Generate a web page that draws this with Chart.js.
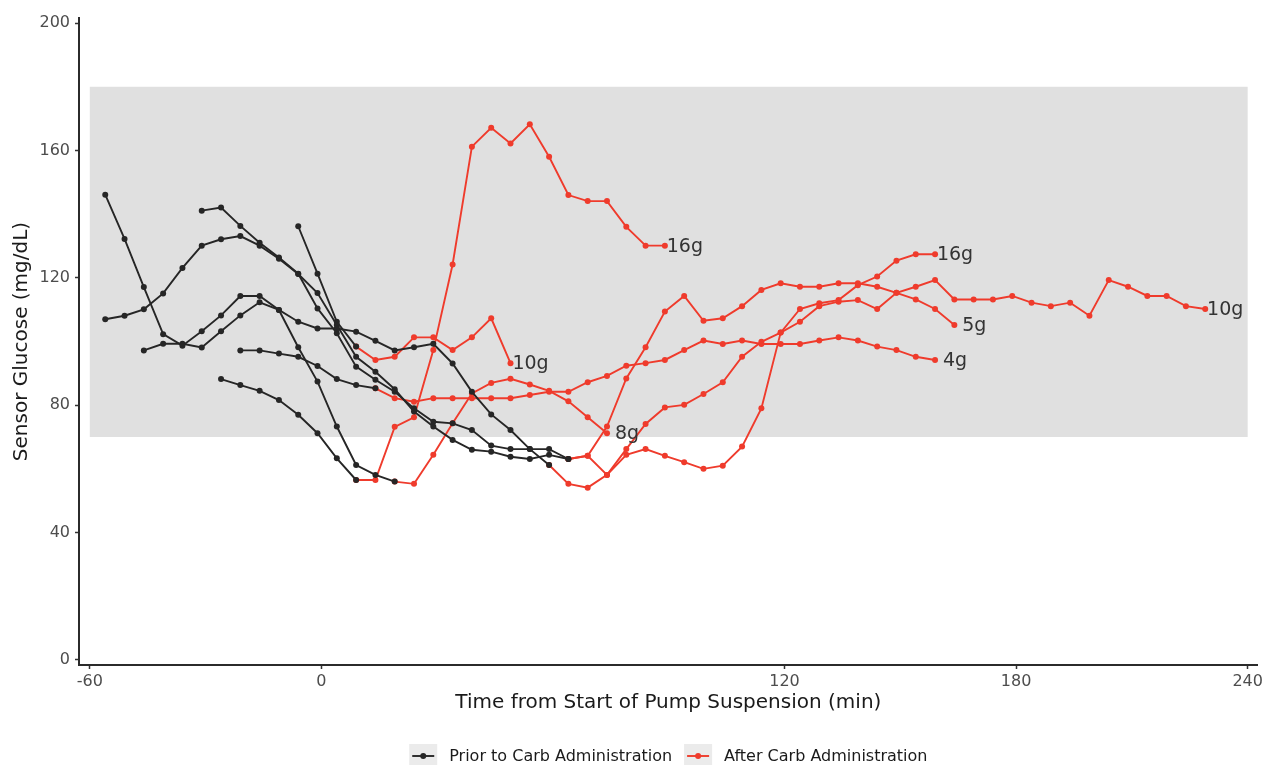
<!DOCTYPE html>
<html lang="en">
  <head>
    <meta charset="UTF-8" />
    <title>Sensor Glucose</title>
    <script src="https://cdn.jsdelivr.net/npm/chart.js"></script>
    <style>
      body { margin: 0; background: #fff; }
      canvas { display: block; }
    </style>
  </head>
  <body>
    <canvas id="glucoseChart" width="1266" height="765"></canvas>

    <script>
      // [minutes from start of pump suspension, sensor glucose mg/dL]
      // before carbs were given (black)
      const prior1 = [[-56,146.1],[-51,132.2],[-46,117.1],[-41,102.3],[-36,98.7],[-31,103.2],[-26,108.2],[-21,114.3],[-16,114.3],[-11,109.9],[-6,98.2],[-1,87.4],[4,73.3],[9,61.2],[14,58.1],[19,56.0]];
      const prior2 = [[-46,97.2],[-41,99.3],[-36,99.3],[-31,98.1],[-26,103.2],[-21,108.2],[-16,112.3],[-11,109.9],[-6,106.2],[-1,104.1],[4,104.1],[9,103.1],[14,100.2],[19,97.2],[24,98.2],[29,99.3],[34,93.1],[39,84.2],[44,77.1],[49,72.2],[54,66.2],[59,61.2]];
      const prior3 = [[-56,107.0],[-51,108.1],[-46,110.1],[-41,115.1],[-36,123.1],[-31,130.1],[-26,132.1],[-21,133.1],[-16,130.1],[-11,126.0],[-6,121.2],[-1,115.2],[4,105.2],[9,95.2],[14,90.5],[19,85.0],[24,78.0],[29,73.3],[34,69.1],[39,66.0],[44,65.4],[49,63.8],[54,63.1],[59,64.4],[64,63.1]];
      const prior4 = [[-31,141.1],[-26,142.1],[-21,136.3],[-16,131.0],[-11,126.4],[-6,121.3],[-1,110.4],[4,102.6],[9,92.1],[14,88.0],[19,84.2],[24,79.0],[29,74.8],[34,74.3],[39,72.2],[44,67.3],[49,66.2],[54,66.2],[59,66.2],[64,63.1]];
      const prior5 = [[-21,97.2],[-16,97.2],[-11,96.2],[-6,95.2],[-1,92.3],[4,88.2],[9,86.3],[14,85.3]];
      const prior6 = [[-26,88.2],[-21,86.3],[-16,84.5],[-11,81.6],[-6,77.0],[-1,71.2],[4,63.3],[9,56.5]];
      const prior7 = [[-6,136.2],[-1,121.3],[4,106.2],[9,98.4]];

      // after carbs were given (red)
      const after1 = [[9,56.5],[14,56.5],[19,73.2],[24,76.2],[29,97.3],[34,124.2],[39,161.2],[44,167.1],[49,162.2],[54,168.2],[59,158.0],[64,146.0],[69,144.1],[74,144.1],[79,136.0],[84,130.1],[89,130.1]];
      const after2 = [[9,98.4],[14,94.2],[19,95.2],[24,101.3],[29,101.3],[34,97.3],[39,101.3],[44,107.3],[49,93.2]];
      const after3 = [[19,56.0],[24,55.3],[29,64.4],[34,74.3],[39,83.7],[44,87.0],[49,88.3],[54,86.5],[59,84.5],[64,81.2],[69,76.2],[74,71.2]];
      const after4 = [[14,85.3],[19,82.2],[24,81.1],[29,82.2],[34,82.2],[39,82.2],[44,82.2],[49,82.2],[54,83.2],[59,84.2],[64,84.2],[69,87.2],[74,89.2],[79,92.4],[84,93.2],[89,94.2],[94,97.3],[99,100.3],[104,99.2],[109,100.3],[114,99.2],[119,99.2],[124,99.2],[129,100.3],[134,101.3],[139,100.3],[144,98.4],[149,97.3],[154,95.2],[159,94.2]];
      const after5 = [[64,63.1],[69,64.1],[74,73.3],[79,88.4],[84,98.2],[89,109.4],[94,114.3],[99,106.5],[104,107.3],[109,111.1],[114,116.2],[119,118.3],[124,117.2],[129,117.2],[134,118.3],[139,118.3],[144,117.2],[149,115.3],[154,113.2],[159,110.2],[164,105.2]];
      const after6 = [[64,63.1],[69,64.1],[74,58.1],[79,64.4],[84,66.2],[89,64.1],[94,62.1],[99,60.0],[104,61.0],[109,67.0],[114,79.0],[119,102.8],[124,110.2],[129,112.0],[134,113.0],[139,117.7],[144,120.4],[149,125.4],[154,127.4],[159,127.4]];
      const after7 = [[59,61.2],[64,55.3],[69,54.1],[74,58.1],[79,66.2],[84,74.1],[89,79.3],[94,80.1],[99,83.5],[104,87.2],[109,95.2],[114,99.9],[119,102.8],[124,106.2],[129,111.1],[134,112.5],[139,113.0],[144,110.2],[149,115.3],[154,117.2],[159,119.3],[164,113.2],[169,113.2],[174,113.2],[179,114.3],[184,112.2],[189,111.1],[194,112.2],[199,108.1],[204,119.3],[209,117.2],[214,114.3],[219,114.3],[224,111.1],[229,110.2]];

      const priorSeries = [prior1, prior2, prior3, prior4, prior5, prior6, prior7];
      const afterSeries = [after1, after2, after3, after4, after5, after6, after7];
      const carbLabels = ["16g", "10g", "8g", "4g", "5g", "16g", "10g"];
      const seriesNames = ["Prior to Carb Administration", "After Carb Administration"];

      // target range shading
      const targetLow = 70;
      const targetHigh = 180;
      const bandStart = -60;
      const bandEnd = 240;

      const xTicks = [-60, 0, 120, 180, 240];
      const yTicks = [0, 40, 80, 120, 160, 200];

      const priorColor = "#262626";
      const afterColor = "#ef3b2c";
      const seriesColors = [priorColor, afterColor];
      const fontFamily = '"DejaVu Sans", sans-serif';

      function lineDataset(points, color, label) {
        return {
          data: points,
          borderColor: color,
          backgroundColor: color,
          borderWidth: 1.9,
          pointRadius: 3,
          pointBorderWidth: 0,
          pointBackgroundColor: color,
          tension: 0,
          carbLabel: label,
        };
      }

      const datasets = [
        ...priorSeries.map((s) => lineDataset(s, priorColor, null)),
        ...afterSeries.map((s, i) => lineDataset(s, afterColor, carbLabels[i])),
      ];

      // grey target band behind the lines
      const bandPlugin = {
        id: "targetBand",
        beforeDatasetsDraw(chart) {
          const { ctx, scales } = chart;
          const left = scales.x.getPixelForValue(bandStart);
          const right = scales.x.getPixelForValue(bandEnd);
          const top = scales.y.getPixelForValue(targetHigh);
          const bottom = scales.y.getPixelForValue(targetLow);
          ctx.save();
          ctx.fillStyle = "#e0e0e0";
          ctx.fillRect(left, top, right - left, bottom - top);
          ctx.restore();
        },
      };

      // carb amount written next to the last point of each red line
      const carbLabelPlugin = {
        id: "carbLabels",
        afterDatasetsDraw(chart) {
          const ctx = chart.ctx;
          ctx.save();
          ctx.font = "19px " + fontFamily;
          ctx.fillStyle = "#333333";
          ctx.textAlign = "center";
          ctx.textBaseline = "middle";
          chart.data.datasets.forEach((ds, i) => {
            if (!ds.carbLabel) return;
            const pts = chart.getDatasetMeta(i).data;
            const last = pts[pts.length - 1];
            ctx.fillText(ds.carbLabel, last.x + 20, last.y + 1);
          });
          ctx.restore();
        },
      };

      // ggplot-style legend under the x axis title
      const keyLegendPlugin = {
        id: "keyLegend",
        afterDraw(chart) {
          const { ctx, chartArea } = chart;
          const keyW = 28, keyH = 24, textGap = 12, itemGap = 12, cy = 756;
          ctx.save();
          ctx.font = "16px " + fontFamily;
          const items = seriesNames.map((name, i) => ({
            name,
            color: seriesColors[i],
            w: ctx.measureText(name).width,
          }));
          const total =
            items.reduce((s, it) => s + keyW + textGap + it.w, 0) +
            itemGap * (items.length - 1);
          let x = (chartArea.left + chartArea.right) / 2 - total / 2;
          items.forEach((it) => {
            ctx.fillStyle = "#ebebeb";
            ctx.fillRect(x, cy - keyH / 2, keyW, keyH);
            ctx.strokeStyle = it.color;
            ctx.lineWidth = 1.9;
            ctx.beginPath();
            ctx.moveTo(x + 3, cy);
            ctx.lineTo(x + keyW - 3, cy);
            ctx.stroke();
            ctx.fillStyle = it.color;
            ctx.beginPath();
            ctx.arc(x + keyW / 2, cy, 3, 0, Math.PI * 2);
            ctx.fill();
            ctx.fillStyle = "#1a1a1a";
            ctx.textAlign = "left";
            ctx.textBaseline = "middle";
            ctx.fillText(it.name, x + keyW + textGap, cy + 1);
            x += keyW + textGap + it.w + itemGap;
          });
          ctx.restore();
        },
      };

      const axisBase = {
        type: "linear",
        grid: {
          drawOnChartArea: false,
          drawTicks: true,
          tickLength: 4,
          tickColor: "#333333",
          tickWidth: 1.5,
        },
        border: { display: true, color: "#2b2b2b", width: 2 },
      };

      new Chart(document.getElementById("glucoseChart").getContext("2d"), {
        type: "line",
        data: { datasets },
        plugins: [bandPlugin, carbLabelPlugin, keyLegendPlugin],
        options: {
          responsive: false,
          animation: false,
          layout: { padding: { top: 18, right: 6, bottom: 16, left: 0 } },
          plugins: { legend: { display: false }, tooltip: { enabled: false } },
          scales: {
            x: {
              ...axisBase,
              min: -62.8,
              max: 242.6,
              afterBuildTicks: (scale) => {
                scale.ticks = xTicks.map((v) => ({ value: v }));
              },
              afterFit: (scale) => {
                scale.height = 84;
              },
              ticks: {
                autoSkip: false,
                maxRotation: 0,
                padding: 3,
                color: "#4d4d4d",
                font: { family: fontFamily, size: 16 },
              },
              title: {
                display: true,
                text: "Time from Start of Pump Suspension (min)",
                color: "#1a1a1a",
                font: { family: fontFamily, size: 20 },
                padding: { top: 0, bottom: 34 },
              },
            },
            y: {
              ...axisBase,
              min: -1.6,
              max: 201.6,
              afterBuildTicks: (scale) => {
                scale.ticks = yTicks.map((v) => ({ value: v }));
              },
              afterFit: (scale) => {
                scale.width = 79;
              },
              ticks: {
                padding: 5,
                color: "#4d4d4d",
                font: { family: fontFamily, size: 16 },
              },
              title: {
                display: true,
                text: "Sensor Glucose (mg/dL)",
                color: "#1a1a1a",
                font: { family: fontFamily, size: 20 },
                padding: { top: 10, bottom: 0 },
              },
            },
          },
        },
      });
    </script>
  </body>
</html>
